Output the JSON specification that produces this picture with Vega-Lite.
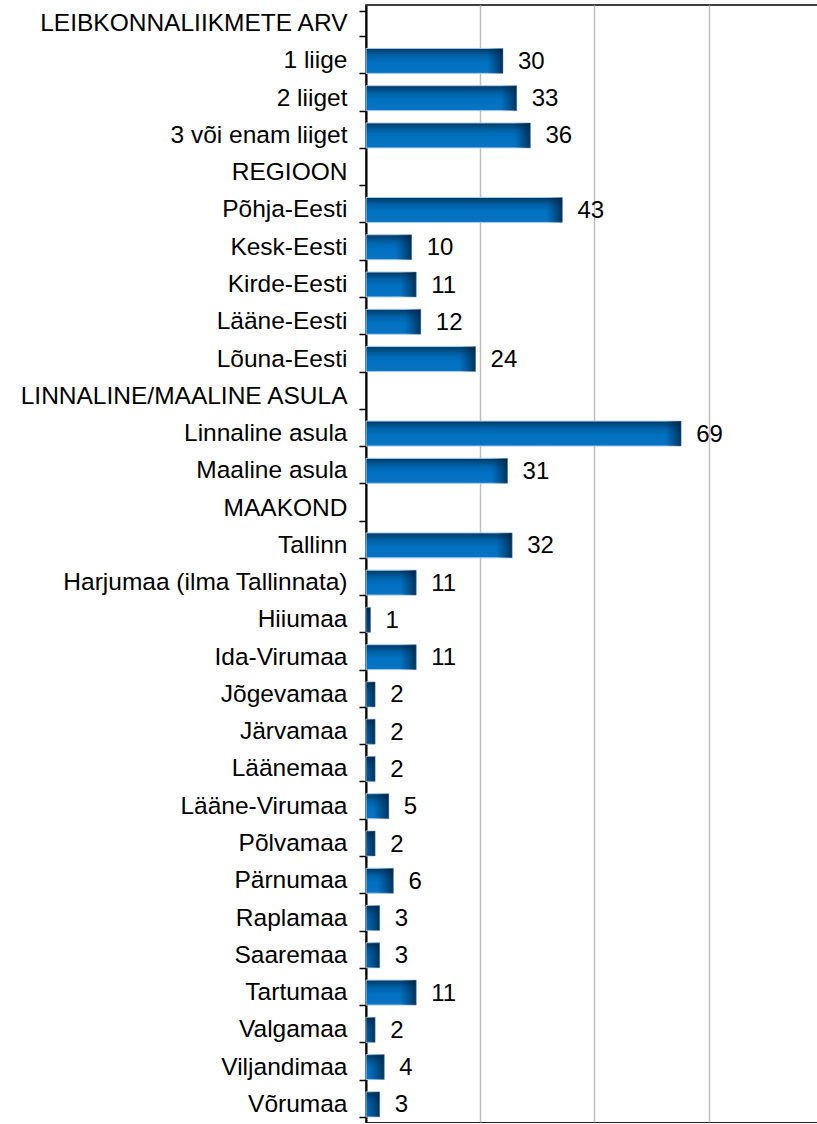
{
  "$schema": "https://vega.github.io/schema/vega-lite/v6.json",
  "width": 452,
  "height": 1118,
  "autosize": {"type": "none"},
  "padding": {"left": 366, "top": 5, "right": 0, "bottom": 0},
  "background": "white",
  "config": {
    "view": {"stroke": "black", "strokeWidth": 1.5},
    "font": "Liberation Sans"
  },
  "data": {
    "values": [
      {"label": "LEIBKONNALIIKMETE ARV", "value": null},
      {"label": "1 liige", "value": 30},
      {"label": "2 liiget", "value": 33},
      {"label": "3 või enam liiget", "value": 36},
      {"label": "REGIOON", "value": null},
      {"label": "Põhja-Eesti", "value": 43},
      {"label": "Kesk-Eesti", "value": 10},
      {"label": "Kirde-Eesti", "value": 11},
      {"label": "Lääne-Eesti", "value": 12},
      {"label": "Lõuna-Eesti", "value": 24},
      {"label": "LINNALINE/MAALINE ASULA", "value": null},
      {"label": "Linnaline asula", "value": 69},
      {"label": "Maaline asula", "value": 31},
      {"label": "MAAKOND", "value": null},
      {"label": "Tallinn", "value": 32},
      {"label": "Harjumaa (ilma Tallinnata)", "value": 11},
      {"label": "Hiiumaa", "value": 1},
      {"label": "Ida-Virumaa", "value": 11},
      {"label": "Jõgevamaa", "value": 2},
      {"label": "Järvamaa", "value": 2},
      {"label": "Läänemaa", "value": 2},
      {"label": "Lääne-Virumaa", "value": 5},
      {"label": "Põlvamaa", "value": 2},
      {"label": "Pärnumaa", "value": 6},
      {"label": "Raplamaa", "value": 3},
      {"label": "Saaremaa", "value": 3},
      {"label": "Tartumaa", "value": 11},
      {"label": "Valgamaa", "value": 2},
      {"label": "Viljandimaa", "value": 4},
      {"label": "Võrumaa", "value": 3}
    ]
  },
  "encoding": {
    "y": {
      "field": "label",
      "type": "nominal",
      "sort": null,
      "scale": {
        "domain": ["LEIBKONNALIIKMETE ARV", "1 liige", "2 liiget", "3 või enam liiget", "REGIOON", "Põhja-Eesti", "Kesk-Eesti", "Kirde-Eesti", "Lääne-Eesti", "Lõuna-Eesti", "LINNALINE/MAALINE ASULA", "Linnaline asula", "Maaline asula", "MAAKOND", "Tallinn", "Harjumaa (ilma Tallinnata)", "Hiiumaa", "Ida-Virumaa", "Jõgevamaa", "Järvamaa", "Läänemaa", "Lääne-Virumaa", "Põlvamaa", "Pärnumaa", "Raplamaa", "Saaremaa", "Tartumaa", "Valgamaa", "Viljandimaa", "Võrumaa"],
        "paddingInner": 0.33,
        "paddingOuter": 0.165
      },
      "axis": {
        "title": null,
        "labelFont": "Liberation Sans",
        "labelFontSize": 24.5,
        "labelColor": "black",
        "labelLimit": 400,
        "labelPadding": 12,
        "domainColor": "black",
        "domainWidth": 2,
        "tickColor": "black",
        "tickWidth": 1.5,
        "tickSize": 7,
        "tickBand": "extent",
        "grid": false
      }
    }
  },
  "layer": [
    {
      "mark": {
        "type": "bar",
        "stroke": "#a9cdea",
        "strokeWidth": 1,
        "color": {
          "gradient": "linear",
          "x1": 0, "y1": 0, "x2": 0, "y2": 1,
          "stops": [
            {"offset": 0, "color": "#003862"},
            {"offset": 0.3, "color": "#0062a8"},
            {"offset": 0.55, "color": "#0070c0"},
            {"offset": 1, "color": "#0a74c3"}
          ]
        }
      },
      "encoding": {
        "x": {
          "field": "value",
          "type": "quantitative",
          "scale": {"domain": [0, 98.97], "nice": false, "zero": true},
          "axis": {
            "title": null,
            "labels": false,
            "ticks": false,
            "domainColor": "black",
            "domainWidth": 2,
            "grid": true,
            "gridColor": "#bfbfbf",
            "gridWidth": 1.5,
            "values": [0, 25, 50, 75]
          }
        }
      }
    },
    {
      "mark": {
        "type": "bar",
        "clip": true,
        "xOffset": -16,
        "color": {
          "gradient": "linear",
          "x1": 0, "y1": 0, "x2": 1, "y2": 0,
          "stops": [
            {"offset": 0, "color": "rgba(0,40,80,0)"},
            {"offset": 1, "color": "rgba(0,30,60,0.75)"}
          ]
        }
      },
      "encoding": {
        "x": {"field": "value", "type": "quantitative"},
        "x2": {"field": "value"}
      }
    },
    {
      "mark": {
        "type": "text",
        "align": "left",
        "baseline": "middle",
        "dx": 15,
        "dy": 1,
        "font": "Liberation Sans",
        "fontSize": 24,
        "color": "black"
      },
      "encoding": {
        "x": {"field": "value", "type": "quantitative"},
        "text": {"field": "value", "type": "quantitative"}
      }
    }
  ]
}
